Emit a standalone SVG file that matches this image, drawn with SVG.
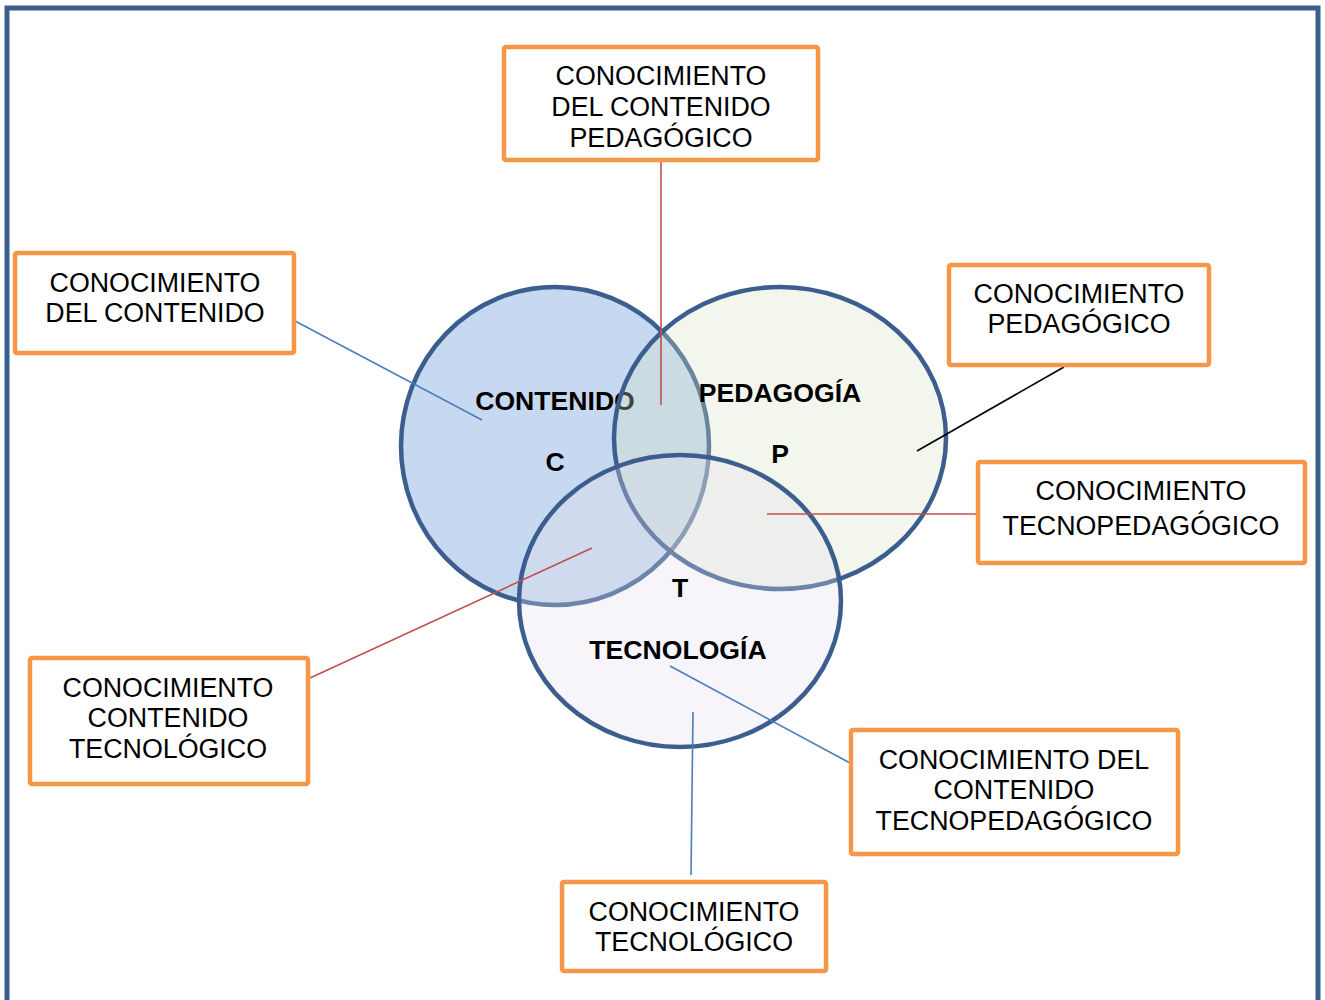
<svg xmlns="http://www.w3.org/2000/svg" width="1325" height="1000" viewBox="0 0 1325 1000">
<style>
.box{fill:#ffffff;stroke:#f79646;stroke-width:4.5}
.bt{font-family:"Liberation Sans",Arial,sans-serif;font-size:26.8px;fill:#000;text-anchor:middle}
.lb{font-family:"Liberation Sans",Arial,sans-serif;font-size:26.6px;font-weight:bold;fill:#000;text-anchor:middle}
.circ{stroke:#3b5e8e;stroke-width:4.5}
.blue{stroke:#4a7ebb;stroke-width:1.6;fill:none}
.red{stroke:#c0504d;stroke-width:1.6;fill:none}
.blk{stroke:#000;stroke-width:1.6;fill:none}
</style>
<rect x="0" y="0" width="1325" height="1000" fill="#ffffff"/>
<rect id="frame" x="7" y="8" width="1311" height="1010" fill="none" stroke="#3a5f8f" stroke-width="5"/>

<g id="circle-C">
<ellipse class="circ" cx="555" cy="446" rx="154" ry="159" fill="#c6d9f0"/>
<text class="lb" x="555" y="410">CONTENIDO</text>
<text class="lb" x="555" y="471">C</text>
</g>
<g id="circle-P">
<ellipse class="circ" cx="780" cy="438" rx="166" ry="151" fill="#d4e1c0" fill-opacity="0.3"/>
<text class="lb" x="780" y="402">PEDAGOGÍA</text>
<text class="lb" x="780" y="463">P</text>
</g>
<g id="circle-T">
<ellipse class="circ" cx="680" cy="601" rx="161" ry="146" fill="#e4deee" fill-opacity="0.3"/>
<text class="lb" x="680" y="597">T</text>
<text class="lb" x="678" y="659">TECNOLOGÍA</text>
</g>

<g id="connectors">
<line class="blue" x1="295" y1="321" x2="482" y2="420"/>
<line class="red" x1="661" y1="160" x2="661" y2="405"/>
<line class="blk" x1="1064" y1="367" x2="917" y2="451"/>
<line class="red" x1="978" y1="514" x2="767" y2="514"/>
<line class="red" x1="310" y1="678" x2="592" y2="548"/>
<line class="blue" x1="850" y1="763" x2="670" y2="666"/>
<line class="blue" x1="691" y1="875" x2="693" y2="712"/>
</g>

<g id="box-cdp">
<rect class="box" x="504" y="47" width="314" height="113" rx="2"/>
<text class="bt" x="661" y="84.5">CONOCIMIENTO</text>
<text class="bt" x="661" y="115.5">DEL CONTENIDO</text>
<text class="bt" x="661" y="146.5">PEDAGÓGICO</text>
</g>
<g id="box-cc">
<rect class="box" x="15" y="253" width="279" height="100" rx="2"/>
<text class="bt" x="155" y="291.5">CONOCIMIENTO</text>
<text class="bt" x="155" y="321.5">DEL CONTENIDO</text>
</g>
<g id="box-cp">
<rect class="box" x="949" y="265" width="260" height="100" rx="2"/>
<text class="bt" x="1079" y="302.5">CONOCIMIENTO</text>
<text class="bt" x="1079" y="332.5">PEDAGÓGICO</text>
</g>
<g id="box-ctp">
<rect class="box" x="978" y="462" width="327" height="101" rx="2"/>
<text class="bt" x="1141" y="499.5">CONOCIMIENTO</text>
<text class="bt" x="1141" y="534.5">TECNOPEDAGÓGICO</text>
</g>
<g id="box-cct">
<rect class="box" x="30" y="658" width="278" height="126" rx="2"/>
<text class="bt" x="168" y="696.5">CONOCIMIENTO</text>
<text class="bt" x="168" y="726.5">CONTENIDO</text>
<text class="bt" x="168" y="757.5">TECNOLÓGICO</text>
</g>
<g id="box-cdctp">
<rect class="box" x="851" y="730" width="327" height="124" rx="2"/>
<text class="bt" x="1014" y="768.5">CONOCIMIENTO DEL</text>
<text class="bt" x="1014" y="798.5">CONTENIDO</text>
<text class="bt" x="1014" y="829.5">TECNOPEDAGÓGICO</text>
</g>
<g id="box-ct">
<rect class="box" x="562" y="882" width="264" height="89" rx="2"/>
<text class="bt" x="694" y="920.5">CONOCIMIENTO</text>
<text class="bt" x="694" y="950.5">TECNOLÓGICO</text>
</g>
</svg>
